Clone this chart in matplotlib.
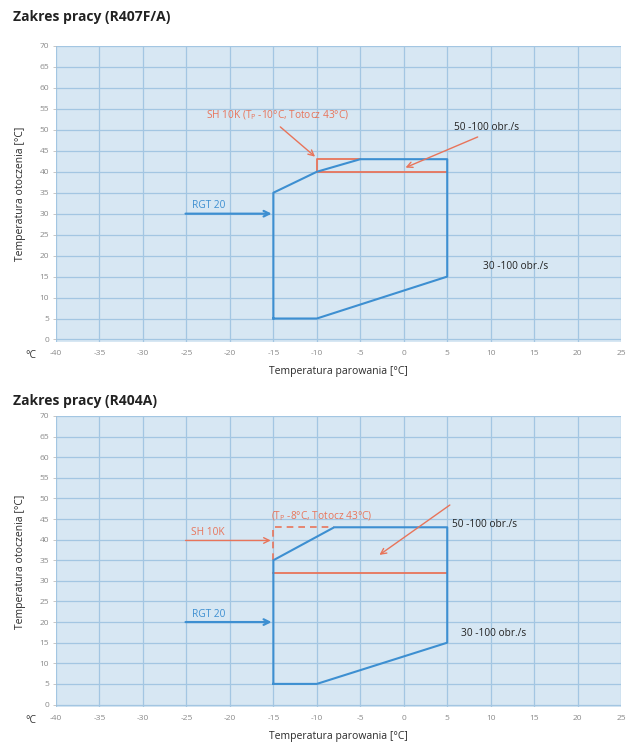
import matplotlib
matplotlib.use("Agg")
import matplotlib.pyplot as plt

plt.rcParams['font.family'] = ['Open Sans', 'DejaVu Sans']
plt.rcParams['mathtext.default'] = 'regular'

BLUE = '#3d8fd1'
ORANGE = '#e8745a'
BG = '#d7e7f3'
GRID = '#a3c6e2'

# osie wspólne
x_ticks = list(range(-40, 30, 5))
y_ticks = list(range(0, 75, 5))

# R407F/A
r407_env_x = [-15, -15, -10, -5, 5, 5, -10, -15]
r407_env_y = [5, 35, 40, 43, 43, 15, 5, 5]
r407_sh_x = [-5, -10, -10, 5]
r407_sh_y = [43, 43, 40, 40]

# R404A
r404_env_x = [-15, -15, -8, 5, 5, -10, -15]
r404_env_y = [5, 35, 43, 43, 15, 5, 5]
r404_sh_dash_x = [-15, -15, -8]
r404_sh_dash_y = [35, 43, 43]
r404_sh_x = [-15, 5]
r404_sh_y = [32, 32]


def base_axes(fig, rect, title, title_y):
    ax = fig.add_axes(rect)
    ax.set_facecolor(BG)
    ax.set_xlim(-40, 25)
    ax.set_ylim(-0.6, 70)
    ax.set_xticks(x_ticks)
    ax.set_yticks(y_ticks)
    ax.set_xticklabels([str(v) for v in x_ticks], fontsize=6, color='#8a8a8a')
    ax.set_yticklabels([str(v) for v in y_ticks], fontsize=6, color='#8a8a8a')
    ax.tick_params(length=2, width=0.5, color='#b0b0b0', pad=3)
    ax.tick_params(axis='x', length=0, pad=6)
    ax.grid(True, color=GRID, lw=0.9)
    ax.set_axisbelow(True)
    for s in ax.spines.values():
        s.set_visible(False)
    ax.set_xlabel('Temperatura parowania [°C]', fontsize=7.5, color='#2a2a2a', labelpad=6)
    ax.set_ylabel('Temperatura otoczenia [°C]', fontsize=7.5, color='#2a2a2a', labelpad=10)
    fig.text(0.02, title_y, title, fontsize=10, fontweight='bold', color='#222222',
             ha='left', va='center')
    ax.text(-0.045, -0.045, '°C', transform=ax.transAxes, fontsize=7.5,
            color='#333333', ha='center', va='center')
    return ax


def arrow(ax, start, end, color, lw=1.0, style='->', ms=10):
    ax.annotate('', xy=end, xytext=start,
                arrowprops=dict(arrowstyle=style, color=color, lw=lw,
                                mutation_scale=ms, shrinkA=0, shrinkB=0))


fig = plt.figure(figsize=(6.3, 7.49), dpi=100)

# --- wykres górny ---
ax1 = base_axes(fig, [0.0889, 0.5434, 0.897, 0.3952], 'Zakres pracy (R407F/A)', 0.977)
ax1.plot(r407_sh_x, r407_sh_y, color=ORANGE, lw=1.3)
ax1.plot(r407_env_x, r407_env_y, color=BLUE, lw=1.5)
ax1.text(-22.8, 53.5, 'SH 10K (T$_P$ -10°C, Totocz 43°C)', fontsize=7.3, color=ORANGE,
         ha='left', va='center')
arrow(ax1, (-14.2, 50.7), (-10.2, 43.6), ORANGE)
ax1.text(5.8, 50.5, '50 -100 obr./s', fontsize=7.3, color='#222222', ha='left', va='center')
arrow(ax1, (8.5, 48.3), (0.2, 41.0), ORANGE)
ax1.text(9.1, 17.4, '30 -100 obr./s', fontsize=7.3, color='#222222', ha='left', va='center')
ax1.text(-24.4, 32.0, 'RGT 20', fontsize=7.3, color=BLUE, ha='left', va='center')
arrow(ax1, (-25.1, 30), (-15.2, 30), BLUE, lw=1.6)

# --- wykres dolny ---
ax2 = base_axes(fig, [0.0889, 0.0561, 0.897, 0.3885], 'Zakres pracy (R404A)', 0.465)
ax2.plot(r404_sh_x, r404_sh_y, color=ORANGE, lw=1.3)
ax2.plot(r404_sh_dash_x, r404_sh_dash_y, color=ORANGE, lw=1.2, ls=(0, (4, 3)))
ax2.plot(r404_env_x, r404_env_y, color=BLUE, lw=1.5)
ax2.text(-15.3, 45.8, '(T$_P$ -8°C, Totocz 43°C)', fontsize=7.3, color=ORANGE,
         ha='left', va='center')
ax2.text(-24.5, 41.8, 'SH 10K', fontsize=7.3, color=ORANGE, ha='left', va='center')
arrow(ax2, (-25.1, 39.8), (-15.3, 39.8), ORANGE)
ax2.text(5.6, 43.6, '50 -100 obr./s', fontsize=7.3, color='#222222', ha='left', va='center')
arrow(ax2, (5.3, 48.4), (-2.8, 36.3), ORANGE)
ax2.text(6.6, 17.2, '30 -100 obr./s', fontsize=7.3, color='#222222', ha='left', va='center')
ax2.text(-24.4, 21.8, 'RGT 20', fontsize=7.3, color=BLUE, ha='left', va='center')
arrow(ax2, (-25.1, 20), (-15.2, 20), BLUE, lw=1.6)

fig.savefig('out.png', dpi=100)
